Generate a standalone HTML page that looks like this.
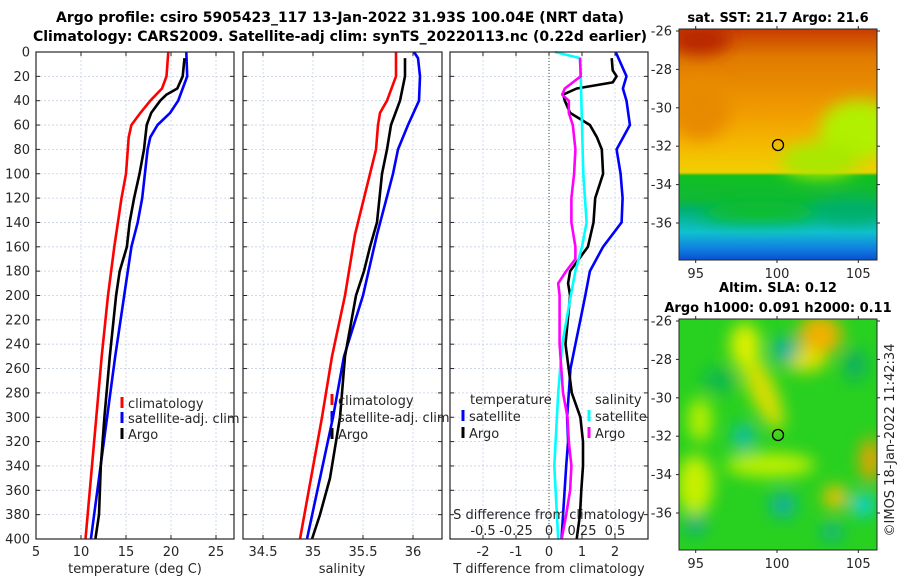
<!DOCTYPE html>
<html><head><meta charset="utf-8"><style>
body{margin:0;background:#fff;}
svg{display:block;font-family:"DejaVu Sans","Liberation Sans",sans-serif;}
text{fill:#262626;}
.t{font-weight:bold;font-size:14px;fill:#000;}
.mt{font-weight:bold;font-size:13px;fill:#000;}
.tk{font-size:13px;}
</style></head><body>
<svg id="c" width="900" height="580" viewBox="0 0 900 580">
<defs>
<linearGradient id="sstg" x1="0" y1="0" x2="0" y2="1">
<stop offset="0" stop-color="#c83c00"/><stop offset="0.12" stop-color="#e07a00"/>
<stop offset="0.35" stop-color="#f09a00"/><stop offset="0.5" stop-color="#f5b800"/>
<stop offset="0.62" stop-color="#f0d000"/><stop offset="0.635" stop-color="#10c020"/>
<stop offset="0.74" stop-color="#10b838"/><stop offset="0.78" stop-color="#00b070"/>
<stop offset="0.88" stop-color="#10c0d0"/><stop offset="0.95" stop-color="#1080e0"/>
<stop offset="1" stop-color="#0a50d0"/></linearGradient>
<filter id="bl" x="-50%" y="-50%" width="200%" height="200%"><feGaussianBlur stdDeviation="8"/></filter>
<clipPath id="m1c"><rect x="679" y="29" width="198" height="231"/></clipPath>
<clipPath id="m2c"><rect x="679" y="319" width="198" height="231"/></clipPath>
</defs>
<text class="t" x="340" y="22" text-anchor="middle">Argo profile: csiro 5905423_117 13-Jan-2022 31.93S 100.04E (NRT data)</text>
<text class="t" x="340" y="41" text-anchor="middle">Climatology: CARS2009. Satellite-adj clim: synTS_20220113.nc (0.22d earlier)</text>
<g id="plots"></g>
<!-- SST map -->
<g>
<text class="mt" x="778" y="22" text-anchor="middle">sat. SST: 21.7 Argo: 21.6</text>
<g clip-path="url(#m1c)">
<rect x="679" y="29" width="198" height="231" fill="url(#sstg)"/>
<g filter="url(#bl)">
<ellipse cx="700" cy="40" rx="30" ry="15" fill="#b82800"/>
<ellipse cx="860" cy="130" rx="40" ry="30" fill="#b0f000"/>
<ellipse cx="820" cy="160" rx="40" ry="18" fill="#a8e800"/>
<ellipse cx="700" cy="110" rx="30" ry="30" fill="#e88a00"/>
<ellipse cx="760" cy="212" rx="60" ry="10" fill="#10c020"/>
<ellipse cx="850" cy="210" rx="35" ry="12" fill="#00b068"/>
</g></g>
<rect x="679" y="29" width="198" height="231" fill="none" stroke="#262626" stroke-width="1"/>
<circle cx="778" cy="145" r="5.5" fill="none" stroke="#000" stroke-width="1.3"/>
<g id="m1ax"></g>
</g>
<!-- SLA map -->
<g>
<text class="mt" x="778" y="292" text-anchor="middle">Altim. SLA: 0.12</text>
<text class="mt" x="778" y="312" text-anchor="middle">Argo h1000: 0.091 h2000: 0.11</text>
<g clip-path="url(#m2c)">
<rect x="679" y="319" width="198" height="231" fill="#28d020"/>
<g filter="url(#bl)">
<ellipse cx="745" cy="345" rx="15" ry="22" fill="#e0f000"/>
<ellipse cx="820" cy="335" rx="22" ry="20" fill="#f0b000"/>
<ellipse cx="805" cy="360" rx="22" ry="12" fill="#e0e000"/>
<ellipse cx="765" cy="395" rx="10" ry="35" fill="#f0b000" transform="rotate(-20 765 395)"/>
<ellipse cx="760" cy="385" rx="14" ry="50" fill="#d8f000" opacity="0.7" transform="rotate(-25 760 385)"/>
<ellipse cx="770" cy="465" rx="45" ry="12" fill="#c0f000"/>
<ellipse cx="695" cy="485" rx="18" ry="30" fill="#c8f000"/>
<ellipse cx="835" cy="497" rx="12" ry="12" fill="#f0c000"/>
<ellipse cx="870" cy="460" rx="10" ry="22" fill="#f0a000"/>
<ellipse cx="700" cy="420" rx="12" ry="22" fill="#b8f000"/>
<ellipse cx="744" cy="437" rx="12" ry="14" fill="#10c0a0"/>
<ellipse cx="785" cy="350" rx="13" ry="13" fill="#10b0a0"/>
<ellipse cx="783" cy="505" rx="13" ry="13" fill="#10b0a0"/>
<ellipse cx="863" cy="505" rx="12" ry="12" fill="#10d0d0"/>
<ellipse cx="832" cy="532" rx="11" ry="9" fill="#10b090"/>
<ellipse cx="695" cy="525" rx="12" ry="10" fill="#10b080"/>
<ellipse cx="855" cy="365" rx="12" ry="16" fill="#10b060"/>
<ellipse cx="720" cy="380" rx="18" ry="12" fill="#10b850"/>
</g></g>
<rect x="679" y="319" width="198" height="231" fill="none" stroke="#262626" stroke-width="1"/>
<circle cx="778" cy="435" r="5.5" fill="none" stroke="#000" stroke-width="1.3"/>
<g id="m2ax"></g>
</g>
<text class="tk" transform="translate(894,440) rotate(-90)" text-anchor="middle">©IMOS 18-Jan-2022 11:42:34</text>
</svg>
<script>
// ---- data ----
const yTicks=[0,20,40,60,80,100,120,140,160,180,200,220,240,260,280,300,320,340,360,380,400];
const tTicks=[5,10,15,20,25];
const sTicks=[34.5,35,35.5,36];
const dTicks=[-2,-1,0,1,2];
const dTickLabels=["-2","-1","0","1","2"];
const sdTickLabels=["-0.5","-0.25","0","0.25","0.5"];
const sdTicks=[-0.5,-0.25,0,0.25,0.5];
// temperature (deg C)
const climTDepth=[0,20,30,40,50,60,70,80,100,120,140,160,200,250,300,350,400];
const climT=[19.7,19.5,19.0,17.7,16.6,15.6,15.3,15.2,15.0,14.5,14.1,13.7,13.0,12.3,11.7,11.1,10.5];
const satTDepth=[0,20,30,40,50,60,70,80,100,120,140,160,200,250,300,350,400];
const satT=[21.7,21.8,21.3,20.8,19.9,18.5,17.7,17.4,17.1,16.8,16.3,15.6,14.8,13.8,12.9,12.0,11.1];
const argoTDepth=[5,20,30,35,40,50,60,80,100,120,140,160,180,200,250,300,340,380,400];
const argoT=[21.5,21.3,20.7,19.5,18.8,17.8,17.3,17.0,16.5,15.9,15.4,15.1,14.3,13.9,13.2,12.6,12.2,12.0,11.6];
// salinity
const climSDepth=[0,20,40,50,60,80,100,150,200,250,300,350,400];
const climS=[35.83,35.83,35.74,35.67,35.65,35.63,35.57,35.42,35.32,35.19,35.09,34.98,34.87];
const satSDepth=[0,5,20,40,60,80,100,150,200,250,300,350,400];
const satS=[36.01,36.05,36.07,36.06,35.95,35.85,35.80,35.64,35.50,35.31,35.20,35.07,34.94];
const argoSDepth=[5,20,40,60,80,100,140,160,180,200,250,300,350,380,400];
const argoS=[35.92,35.92,35.87,35.78,35.74,35.69,35.64,35.57,35.51,35.43,35.32,35.27,35.17,35.07,34.99];
// differences from climatology
const satDTDepth=[0,20,30,40,60,80,100,120,140,160,180,200,220,240,260,300,320,340,400];
const satDT=[2.02,2.35,2.24,2.35,2.45,2.05,2.17,2.23,2.2,1.64,1.24,1.1,0.95,0.8,0.65,0.55,0.58,0.52,0.38];
const argoDTDepth=[5,15,20,25,30,35,40,50,60,70,80,100,120,140,160,180,190,200,240,280,300,320,340,360,380,400];
const argoDT=[1.9,1.93,2.05,1.93,0.84,0.43,0.48,0.64,1.24,1.45,1.6,1.64,1.4,1.35,1.18,0.64,0.58,0.64,0.5,0.69,0.95,1.03,1.03,0.98,0.94,0.84];
const satDSDepth=[0,5,20,60,100,140,160,180,200,240,280,300,340,400];
const satDS=[0.045,0.235,0.24,0.25,0.26,0.285,0.25,0.2,0.165,0.1,0.07,0.06,0.04,0.07];
const argoDSDepth=[5,20,25,30,35,40,50,60,80,100,120,140,160,170,180,190,200,240,280,300,320,340,360,380,400];
const argoDS=[0.235,0.24,0.18,0.12,0.1,0.15,0.15,0.18,0.2,0.19,0.17,0.17,0.2,0.2,0.13,0.07,0.08,0.08,0.106,0.14,0.15,0.17,0.16,0.13,0.096];
// map tick labels
const lonTicks=[95,100,105];
const latTicks=[-26,-28,-30,-32,-34,-36];

// ---- drawing ----
const NS="http://www.w3.org/2000/svg";
const root=document.getElementById('plots');
function mk(tag,at,parent){const e=document.createElementNS(NS,tag);for(const k in at)e.setAttribute(k,at[k]);(parent||root).appendChild(e);return e;}
const Y0=52,Y1=539;
const yS=d=>Y0+(Y1-Y0)*d/400;
const panels=[
 {x0:36,x1:234,v0:5,v1:27,name:'temperature-panel'},
 {x0:243,x1:442,v0:34.3,v1:36.29,name:'salinity-panel'},
 {x0:450,x1:648,v0:-3,v1:3,name:'difference-panel'}];
panels.forEach(p=>{p.x=v=>p.x0+(p.x1-p.x0)*(v-p.v0)/(p.v1-p.v0);});
const xT=panels[0].x,xS=panels[1].x,xD=panels[2].x;
const xSD=v=>xD(v*4);

function frame(p,ticks){
 const g=mk('g',{});
 
 
 mk('rect',{x:p.x0,y:Y0,width:p.x1-p.x0,height:Y1-Y0,fill:'#fff'},g);
 yTicks.forEach(d=>{mk('line',{x1:p.x0,x2:p.x1,y1:yS(d),y2:yS(d),stroke:'#c8d0e8','stroke-width':0.8,'stroke-dasharray':'2,2'},g);
   mk('line',{x1:p.x0,x2:p.x0+4,y1:yS(d),y2:yS(d),stroke:'#262626'},g);
   mk('line',{x1:p.x1,x2:p.x1-4,y1:yS(d),y2:yS(d),stroke:'#262626'},g);});
 ticks.forEach(v=>{mk('line',{x1:p.x(v),x2:p.x(v),y1:Y0,y2:Y1,stroke:'#c8d0e8','stroke-width':0.8,'stroke-dasharray':'2,2'},g);
   mk('line',{x1:p.x(v),x2:p.x(v),y1:Y1,y2:Y1-4,stroke:'#262626'},g);
   mk('line',{x1:p.x(v),x2:p.x(v),y1:Y0,y2:Y0+4,stroke:'#262626'},g);});
 return g;
}
function line(xs,vals,depths,color,name,w){
 const pts=vals.map((v,i)=>xs(v).toFixed(1)+','+yS(depths[i]).toFixed(1)).join(' ');
 const e=mk('polyline',{points:pts,fill:'none',stroke:color,'stroke-width':w||2.6,'stroke-linejoin':'round'});
 
 
}
function txt(x,y,s,anchor,name,cls){const e=mk('text',{x:x,y:y,'text-anchor':anchor||'middle',class:cls||'tk'});e.textContent=s;
 
 return e;}
function box(p){mk('rect',{x:p.x0,y:Y0,width:p.x1-p.x0,height:Y1-Y0,fill:'none',stroke:'#262626','stroke-width':1.2});}

// panel 1
frame(panels[0],tTicks);
line(xT,climT,climTDepth,'#ff0000','climatology-temperature-line');
line(xT,satT,satTDepth,'#0000ff','satellite-temperature-line');
line(xT,argoT,argoTDepth,'#000000','argo-temperature-line');
box(panels[0]);
yTicks.forEach(d=>txt(30,yS(d)+4.5,String(d),'end','y-tick-label'));
tTicks.forEach(v=>txt(xT(v),556,String(v),'middle','x-tick-label-temperature'));
txt(135,573,'temperature (deg C)','middle','x-axis-title-temperature','tk');

// panel 2
frame(panels[1],sTicks);
line(xS,climS,climSDepth,'#ff0000','climatology-salinity-line');
line(xS,satS,satSDepth,'#0000ff','satellite-salinity-line');
line(xS,argoS,argoSDepth,'#000000','argo-salinity-line');
box(panels[1]);
sTicks.forEach(v=>txt(xS(v),556,String(v),'middle','x-tick-label-salinity'));
txt(342,573,'salinity','middle','x-axis-title-salinity');

// panel 3
frame(panels[2],dTicks);
mk('line',{x1:xD(0),x2:xD(0),y1:Y0,y2:Y1,stroke:'#3a5a30','stroke-width':1,'stroke-dasharray':'1,2'});
line(xD,satDT,satDTDepth,'#0000ff','satellite-temperature-difference-line');
line(xD,argoDT,argoDTDepth,'#000000','argo-temperature-difference-line');
line(xSD,satDS,satDSDepth,'#00ffff','satellite-salinity-difference-line');
line(xSD,argoDS,argoDSDepth,'#ff00ff','argo-salinity-difference-line');
box(panels[2]);
dTicks.forEach((v,i)=>txt(xD(v),556,dTickLabels[i],'middle','x-tick-label-temperature-difference'));
txt(549,573,'T difference from climatology','middle','x-axis-title-temperature-difference');
txt(549,519,'S difference from climatology','middle','x-axis-title-salinity-difference');
sdTicks.forEach((v,i)=>txt(xSD(v),535,sdTickLabels[i],'middle','x-tick-label-salinity-difference'));

// legends
function leg(x,y,color,label,name){
 const r=mk('rect',{x:x-1.5,y:y-11,width:3,height:11,fill:color});
 
 
 txt(x+6,y,label,'start',name);
}
leg(122,408,'#ff0000','climatology','legend-entry-climatology');
leg(122,423,'#0000ff','satellite-adj. clim','legend-entry-satellite');
leg(122,439,'#000000','Argo','legend-entry-argo');
leg(332,405,'#ff0000','climatology','legend-entry-climatology-salinity');
leg(332,422,'#0000ff','satellite-adj. clim','legend-entry-satellite-salinity');
leg(332,439,'#000000','Argo','legend-entry-argo-salinity');
txt(470,404,'temperature','start','legend-title-temperature');
leg(463,421,'#0000ff','satellite','legend-entry-t-satellite');
leg(463,438,'#000000','Argo','legend-entry-t-argo');
txt(595,404,'salinity','start','legend-title-salinity');
leg(589,421,'#00ffff','satellite','legend-entry-s-satellite');
leg(589,438,'#ff00ff','Argo','legend-entry-s-argo');

// map axes
function mapAxes(gid,top,bottom){
 const g=document.getElementById(gid);
 const lx=v=>695.7+(v-95)*16.26;
 const ly=v=>top+2+(-26-v)*19.2;
 lonTicks.forEach(v=>{mk('line',{x1:lx(v),x2:lx(v),y1:bottom,y2:bottom+3,stroke:'#262626'},g);
   mk('line',{x1:lx(v),x2:lx(v),y1:top-3,y2:top,stroke:'#262626'},g);
   const t=mk('text',{x:lx(v),y:bottom+18,'text-anchor':'middle',class:'tk'},g);t.textContent=String(v);
   
   });
 latTicks.forEach(v=>{mk('line',{x1:676,x2:679,y1:ly(v),y2:ly(v),stroke:'#262626'},g);
   mk('line',{x1:877,x2:880,y1:ly(v),y2:ly(v),stroke:'#262626'},g);
   const t=mk('text',{x:672,y:ly(v)+4.5,'text-anchor':'end',class:'tk'},g);t.textContent=String(v);
   
   });
}
mapAxes('m1ax',29,260);
mapAxes('m2ax',319,550);
</script>
</body></html>
